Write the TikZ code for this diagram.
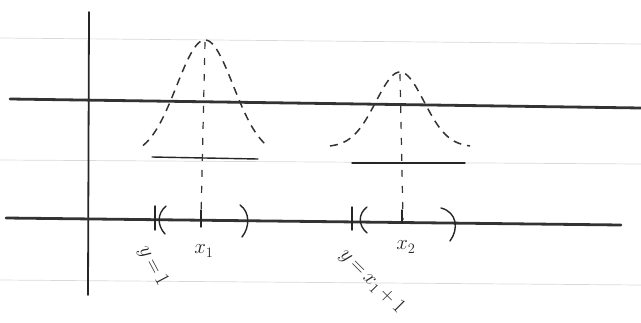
\documentclass[tikz,border=0pt]{standalone}
\usepackage{amsmath}
\usetikzlibrary{calc}

\tikzset{
  ruled/.style={line width=0.7pt, draw=gray!30},
  axisline/.style={line width=2.8pt, draw=black!80, line cap=round},
  ink/.style={line width=1.4pt, draw=black!85, line cap=round},
  bell/.style={line width=1.5pt, draw=black!80, dash pattern=on 8pt off 6pt},
  guide/.style={line width=1.2pt, draw=black!80, dash pattern=on 7pt off 9pt},
  lbl/.style={font=\fontsize{22}{22}\selectfont, text=black!85, inner sep=1pt},
}

\begin{document}
\begin{tikzpicture}[x=1pt, y=-1pt]
\useasboundingbox (0,0) rectangle (641,322);

% ---- Ruled paper ----
\draw[ruled] (0,38) -- (641,44);
\draw[ruled] (0,160) -- (641,164);
\draw[ruled] (0,280) -- (641,285);

% Vertical axis
\draw[ink, line width=1.8pt] (89,12) -- (88,295);

% ---- Two horizontal axes ----
\draw[axisline] (10,99) -- (641,108);
\draw[axisline] (6,218) -- (621,225);

% Bell curves (dashed)
\draw[bell, domain=-62:62, samples=80]
  plot ({205+\x}, {156-116*exp(-(\x)^2/1600)});
\draw[bell, domain=-70:70, samples=80]
  plot ({400+\x}, {147-75*exp(-(\x)^2/1152)});

% Bases under the bells
\draw[ink] (152,157) -- (258,159);
\draw[ink] (352,163) -- (465,163);

% ---- Points on the lower axis ----
\coordinate (peak1) at (205,42);
\coordinate (peak2) at (400,74);
\coordinate (x1tick) at (201,218);
\coordinate (x2tick) at (403,220);

% Dashed guides from peaks down
\draw[guide] (peak1) -- (x1tick);
\draw[guide] (peak2) -- (x2tick);

% Ticks
\draw[ink] (155,206) -- (155,230);
\draw[ink] (201,210) -- (201,227);
\draw[ink] (352,207) -- (352,230);
\draw[ink] (402,210) -- (402,223);

% Brackets
\draw[ink] (166,206) .. controls (157,214) and (157,225) .. (165,234);
\draw[ink] (240,205) .. controls (250,212) and (250,227) .. (242,237);
\draw[ink] (367,207) .. controls (358,214) and (358,225) .. (367,233);
\draw[ink] (441,208) .. controls (457,212) and (459,229) .. (450,241);

% ---- Labels ----
\node[lbl] (x1lbl) at (204,251) {$x_1$};
\node[lbl] (x2lbl) at (406,247) {$x_2$};
\node[lbl, rotate=-62] (y1lbl) at (153,266) {$y\,{=}\,1$};
\node[lbl, rotate=-45] (y2lbl) at (372,282) {$y\,{=}\,x_1\,{+}\,1$};

\end{tikzpicture}
\end{document}
